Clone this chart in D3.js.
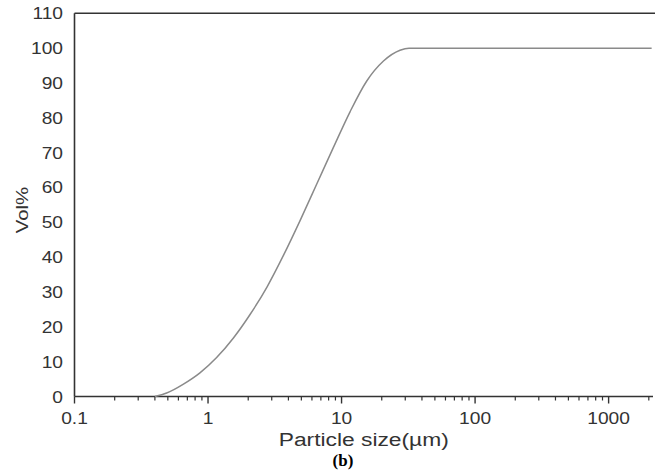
<!DOCTYPE html>
<html>
<head>
<meta charset="utf-8">
<script src="https://cdn.jsdelivr.net/npm/d3@7"></script>
<style>
  body { margin: 0; background: #fff; }
  text { font-family: "Liberation Sans", Arial, sans-serif; fill: #333; }
</style>
</head>
<body>
<script>
// particle size distribution (cumulative)
const sizeUm = [0.4, 0.49, 0.65, 0.87, 1.16, 1.55, 2.07, 2.77, 3.67, 4.89, 6.52, 8.69, 11.6, 15.4, 20.6, 27.4, 32, 100, 1000, 2100];
const volPct = [0, 1.0, 3.5, 6.8, 11.2, 16.8, 23.6, 31.5, 40.5, 50.5, 61.0, 71.5, 81.8, 90.5, 96.3, 99.4, 100, 100, 100, 100];
const xTicks = [0.1, 1, 10, 100, 1000];
const yTicks = [0, 10, 20, 30, 40, 50, 60, 70, 80, 90, 100, 110];

const W = 655, H = 471;
const plot = {left: 74.5, right: 653, top: 13.3, bottom: 396.5};
const stretch = 1.2; // reference text looks horizontally widened

const svg = d3.select("body").append("svg")
    .attr("width", W)
    .attr("height", H);

let x = d3.scaleLog()
    .domain([0.1, 2150])
    .range([plot.left, plot.right]);

let y = d3.scaleLinear()
    .domain([0, 110])
    .range([plot.bottom, plot.top]);

// minor ticks 2..9 in each decade
let minor = [];
for (let e = -1; e <= 3; e++) {
    for (let m = 2; m <= 9; m++) {
        let v = m * Math.pow(10, e);
        if (v <= 2150) minor.push(v);
    }
}

// x axis
let gx = svg.append("g")
    .attr("transform", "translate(0," + plot.bottom + ")");
gx.append("line")
    .attr("x1", plot.left).attr("x2", plot.right)
    .attr("stroke", "#333").attr("stroke-width", 1.6);
gx.selectAll(".minor").data(minor).join("line")
    .attr("class", "minor")
    .attr("x1", d => x(d)).attr("x2", d => x(d))
    .attr("y1", 0).attr("y2", 4)
    .attr("stroke", "#333").attr("stroke-width", 1.2);
gx.selectAll(".major").data(xTicks).join("line")
    .attr("class", "major")
    .attr("x1", d => x(d)).attr("x2", d => x(d))
    .attr("y1", 0).attr("y2", 7)
    .attr("stroke", "#333").attr("stroke-width", 1.4);
gx.selectAll(".lbl").data(xTicks).join("text")
    .attr("class", "lbl")
    .attr("transform", d => "translate(" + x(d) + ",27) scale(" + stretch + ",1)")
    .attr("text-anchor", "middle")
    .style("font-size", "16px")
    .text(d => d);

// y axis (no tick marks in the reference)
svg.append("line")
    .attr("x1", plot.left).attr("x2", plot.left)
    .attr("y1", plot.top).attr("y2", plot.bottom)
    .attr("stroke", "#333").attr("stroke-width", 1.6);
svg.append("g").selectAll("text").data(yTicks).join("text")
    .attr("transform", d => "translate(63," + (y(d) + 6) + ") scale(" + stretch + ",1)")
    .attr("text-anchor", "end")
    .style("font-size", "16px")
    .text(d => d);

// top frame line
svg.append("line")
    .attr("x1", plot.left).attr("x2", W)
    .attr("y1", plot.top).attr("y2", plot.top)
    .attr("stroke", "#333").attr("stroke-width", 1.6);

// curve
let line = d3.line()
    .x((d, i) => x(sizeUm[i]))
    .y(d => y(d))
    .curve(d3.curveMonotoneX);

svg.append("path")
    .datum(volPct)
    .attr("d", line)
    .attr("fill", "none")
    .attr("stroke", "#8a8a8a")
    .attr("stroke-width", 1.5);

// axis titles
svg.append("text")
    .attr("transform", "translate(" + ((plot.left + plot.right) / 2) + ",446) scale(" + stretch + ",1)")
    .attr("text-anchor", "middle")
    .style("font-size", "19px")
    .text("Particle size(\u00b5m)");

svg.append("text")
    .attr("transform", "translate(28,210) rotate(-90) scale(" + stretch + ",1)")
    .attr("text-anchor", "middle")
    .style("font-size", "17px")
    .text("Vol%");

svg.append("text")
    .attr("x", 343)
    .attr("y", 466)
    .attr("text-anchor", "middle")
    .style("font-family", "'Liberation Serif', 'Times New Roman', serif")
    .style("font-weight", "bold")
    .style("font-size", "17px")
    .style("fill", "#000")
    .text("(b)");
</script>
</body>
</html>
